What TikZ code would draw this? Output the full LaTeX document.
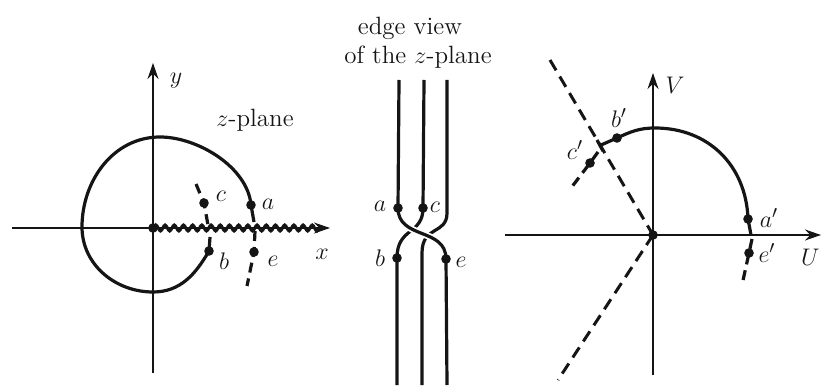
\documentclass[tikz,border=0pt]{standalone}
\usepackage{tikz}
\usetikzlibrary{arrows.meta, decorations.pathmorphing}
\definecolor{ink}{HTML}{151515}
\tikzset{
  axis/.style={draw=ink, line width=0.55pt, -{Stealth[length=8pt, width=5.5pt]}},
  curve/.style={draw=ink, line width=1.6pt},
  overcurve/.style={curve, preaction={draw=white, line width=3.4pt}},
  dashcurve/.style={draw=ink, line width=1.6pt, dash pattern=on 5pt off 3pt},
  longdash/.style={draw=ink, line width=1.5pt, dash pattern=on 6pt off 3.6pt},
  cut/.style={draw=ink, line width=1.5pt, decorate,
              decoration={snake, segment length=4.6pt, amplitude=1.5pt}},
  pt/.style={circle, fill=ink, inner sep=0pt, minimum size=4.8pt},
  lbl/.style={font=\fontsize{13}{15}\selectfont, inner sep=1pt, text=ink},
  ttl/.style={font=\fontsize{12.5}{15}\selectfont, inner sep=0pt, text=ink}
}

\begin{document}
\begin{tikzpicture}[x=0.5pt, y=0.5pt]
  \useasboundingbox (0,0) rectangle (822,385);

  % z-plane
  \coordinate (O1) at (153,157);
  \draw[axis] (12,157) -- (330,157);
  \draw[axis] (153,12) -- (153,322);
  \draw[cut] (O1) -- (322,157);
  \node[pt] at (O1) {};

  \coordinate (a1) at (251,180);
  \coordinate (b1) at (209,134);
  \coordinate (c1) at (204,182);
  \coordinate (e1) at (254,133);
  \draw[curve] (254,163) -- (a1) to[out=95, in=0, looseness=0.85] (160,248)
    to[out=180, in=90] (82,158) to[out=-90, in=180] (153,93)
    to[out=0, in=240] (b1) -- (210,148);
  \draw[dashcurve] (196,201) -- (c1) -- (208,160);
  \draw[dashcurve] (255,154) -- (e1) -- (247,99);
  \foreach \p in {a1,b1,c1,e1} \node[pt] at (\p) {};

  \node[lbl] (la1) at (268,181) {$a$};
  \node[lbl] (lc1) at (221,189) {$c$};
  \node[lbl] (lb1) at (224,124) {$b$};
  \node[lbl] (le1) at (273,124) {$e$};
  \node[lbl] (lx1) at (322,131) {$x$};
  \node[lbl] (ly1) at (176,304) {$y$};
  \node[ttl] (zplane) at (255,265) {$z$-plane};

  % edge view
  \node[ttl] (edge1) at (410,357) {edge view};
  \node[ttl] (edge2) at (418,328) {of the $z$-plane};

  \coordinate (a2) at (398,177);
  \coordinate (c2) at (423,177);
  \coordinate (b2) at (397,127);
  \coordinate (e2) at (446,126);
  \draw[curve] (399,305) -- (a2);
  \draw[curve] (424,305) -- (c2);
  \draw[curve] (447,305) -- (447,172) .. controls (447,150) and (422,160) .. (422,132) -- (422,0);
  \draw[curve] (c2) .. controls (423,150) and (397,158) .. (b2) -- (397,0);
  \draw[overcurve] (a2) .. controls (398,145) and (446,158) .. (e2);
  \draw[curve] (e2) -- (447,0);
  \foreach \p in {a2,b2,c2,e2} \node[pt] at (\p) {};

  \node[lbl] (la2) at (380,179) {$a$};
  \node[lbl] (lc2) at (435,178) {$c$};
  \node[lbl] (lb2) at (380,127) {$b$};
  \node[lbl] (le2) at (461,123) {$e$};

  % w-plane
  \coordinate (O3) at (653,150);
  \draw[axis] (505,150) -- (821,150);
  \draw[axis] (653,10) -- (653,312);
  \draw[longdash] (550,325) -- (O3);
  \draw[longdash] (O3) -- (558,5);
  \node[pt] at (O3) {};

  \coordinate (a3) at (748,166);
  \coordinate (b3) at (617,247);
  \coordinate (c3) at (590,222);
  \coordinate (e3) at (749,132);
  \draw[curve] (751,150) -- (a3) to[out=92, in=0, looseness=1.05] (655,257)
    to[out=180, in=25] (b3) -- (601,240);
  \draw[curve] (597,245) -- (603,234);
  \draw[dashcurve] (598,233) -- (c3) -- (571,197);
  \draw[dashcurve] (752,146) -- (e3) -- (742,100);
  \foreach \p in {a3,b3,c3,e3} \node[pt] at (\p) {};

  \node[lbl] (la3) at (769,167) {$a'$};
  \node[lbl] (lb3) at (619,267) {$b'$};
  \node[lbl] (lc3) at (575,235) {$c'$};
  \node[lbl] (le3) at (767,132) {$e'$};
  \node[lbl, anchor=east] (lU) at (822,128) {$U$};
  \node[lbl] (lV) at (675,300) {$V$};
\end{tikzpicture}
\end{document}
